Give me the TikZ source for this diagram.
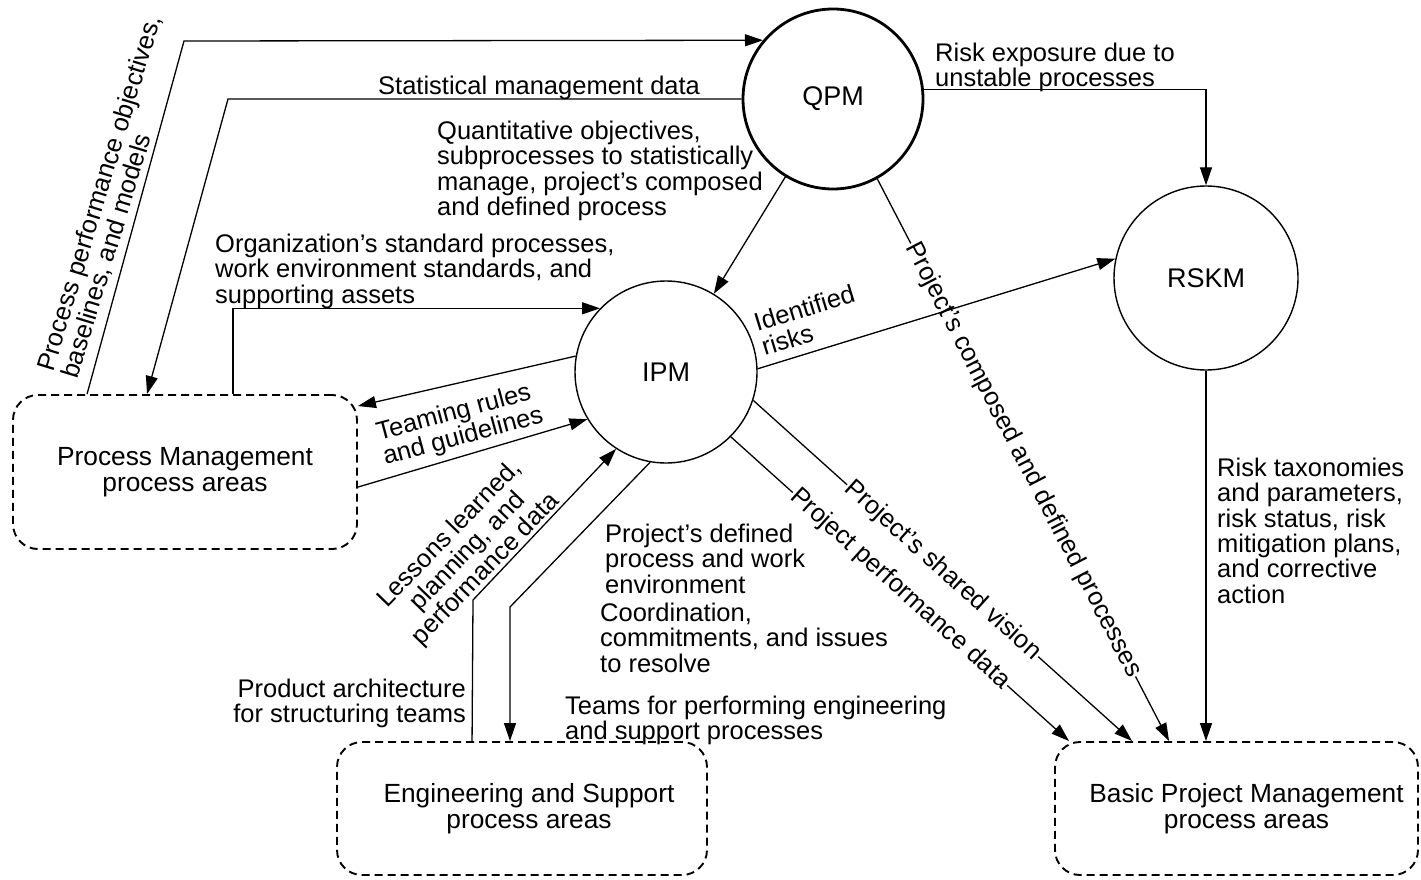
\documentclass[tikz,border=0pt]{standalone}
\usepackage{fontspec}
\setmainfont{Liberation Sans}
\usetikzlibrary{arrows.meta,calc}
\begin{document}
\begin{tikzpicture}[x=1pt,y=-1pt,
 every node/.style={font=\fontsize{25.5}{25.3}\selectfont},
 proc/.style={circle,draw,line width=1.4pt,inner sep=0pt,font=\fontsize{27}{27}\selectfont},
 area/.style={draw,dash pattern=on 8pt off 5pt,line width=1.9pt,rounded corners=25pt,align=center,font=\fontsize{26.3}{26}\selectfont},
 conn/.style={line width=1.3pt},
 arr/.style={conn,-{Triangle[length=18pt,width=12pt]}},
 lbl/.style={inner sep=0pt,align=left},
 onl/.style={sloped,fill=white,inner sep=1pt}
]
\useasboundingbox (0,0) rectangle (1421,880);
% nodes
\node[proc,line width=2.8pt,minimum size=180pt] (QPM) at (833,99) {QPM};
\node[proc,minimum size=184pt] (RSKM) at (1206,278) {RSKM};
\node[proc,minimum size=182pt] (IPM) at (666,372) {IPM};
\node[area,minimum width=344pt,minimum height=154pt] (PM) at (185,472) {Process Management\\process areas};
\node[area,minimum width=370pt,minimum height=133pt] (ES) at (522,808.5) {\hspace*{14pt}Engineering and Support\\\hspace*{14pt}process areas};
\node[area,minimum width=363pt,minimum height=133pt] (BPM) at (1236.5,808.5) {\hspace*{20pt}Basic Project Management\\\hspace*{20pt}process areas};
% process performance objectives
\coordinate (ppo) at (184,41);
\draw[arr] ([xshift=75pt]PM.north west) -- (ppo) -- (QPM.140);
\node[lbl,rotate=73] at (112,197) {Process performance objectives,\\baselines, and models};
% statistical management data
\coordinate (smd) at (228,99);
\draw[arr] (QPM.west) -- (smd) -- ([xshift=135pt]PM.north west);
\node[lbl,anchor=base west] at (378,95) {Statistical management data};
% risk exposure
\draw[arr] (QPM.6) -| (RSKM.north);
\node[lbl,anchor=north west] at (935,43) {Risk exposure due to\\unstable processes};
% QPM -> IPM
\draw[arr] (QPM) -- (IPM);
\node[lbl,anchor=north west] at (437,121) {Quantitative objectives,\\subprocesses to statistically\\manage, project’s composed\\and defined process};
% to BPM
\draw[arr] (QPM.-61) -- node[onl]{Project’s composed and defined processes} ([xshift=115pt]BPM.north west);
\draw[arr] (IPM.-18) -- node[onl]{Project’s shared vision} ([xshift=78pt]BPM.north west);
\draw[arr] (IPM.-45) -- node[onl]{Project performance data} ([xshift=15pt]BPM.north west);
\draw[arr] (RSKM.south) -- (RSKM.south |- BPM.north);
\node[lbl,anchor=north west] at (1217,458) {Risk taxonomies\\and parameters,\\risk status, risk\\mitigation plans,\\and corrective\\action};
% identified risks
\draw[arr] (IPM.2) -- (RSKM.168);
\node[lbl,rotate=17] at (808,320) {Identified\\risks};
% organization's standard processes
\draw[arr] ([xshift=221pt]PM.north west) |- (IPM.136);
\node[lbl,anchor=north west] at (215,234) {Organization’s standard processes,\\work environment standards, and\\supporting assets};
% teaming
\draw[arr] (IPM.170) -- ([yshift=-12pt]PM.north east);
\draw[arr] ([yshift=-93pt]PM.north east) -- (IPM.211);
\node[lbl,rotate=15] at (460,425) {Teaming rules\\and guidelines};
% lessons learned
\coordinate (ll) at (473,600);
\draw[arr] ([xshift=136pt]ES.north west) -- (ll) -- (IPM.237);
\node[lbl,align=center,rotate=46] at (468,552) {Lessons learned,\\planning, and\\performance data};
% project's defined process -> ES
\coordinate (pd) at (510,607);
\draw[arr] (IPM.260) -- (pd) -- (pd |- ES.north);
\node[lbl,anchor=north east,align=right] at (466,679) {Product architecture\\for structuring teams};
\node[lbl,anchor=north west] at (605,524) {Project’s defined\\process and work\\environment};
\node[lbl,anchor=north west] at (600,603) {Coordination,\\commitments, and issues\\to resolve};
\node[lbl,anchor=north west] at (565,696) {Teams for performing engineering\\and support processes};
\end{tikzpicture}
\end{document}
